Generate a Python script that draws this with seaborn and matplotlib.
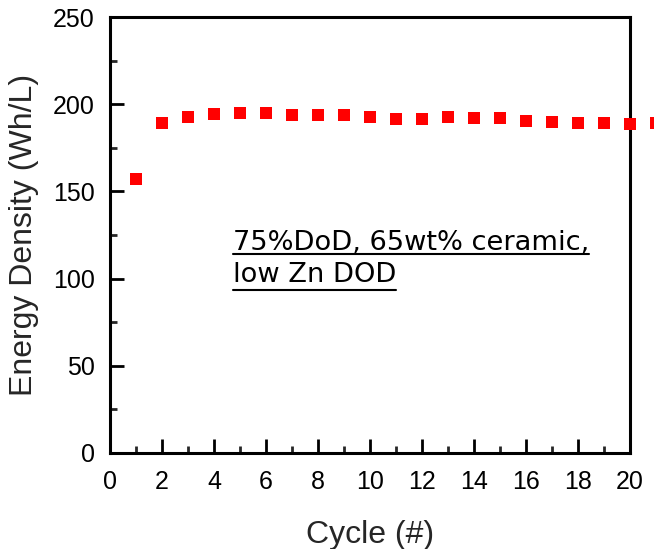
import matplotlib
matplotlib.use("Agg")
import matplotlib.pyplot as plt
import seaborn as sns
import pandas as pd
from matplotlib.lines import Line2D
from matplotlib.ticker import MultipleLocator

# Energy density per cycle
cycles = list(range(1, 22))
energy_density = [157.1, 189.3, 192.7, 194.4, 195.0, 195.0, 193.9, 193.9, 193.9, 192.7,
                  191.6, 191.6, 192.7, 192.1, 192.1, 190.4, 189.8, 189.3, 189.3, 188.7, 189.3]
x_ticks = list(range(0, 21, 2))
y_ticks = [0, 50, 100, 150, 200, 250]
note_lines = ["75%DoD, 65wt% ceramic,", "low Zn DOD"]

sns.set_style("ticks")
plt.rcParams["font.family"] = ["Liberation Sans", "DejaVu Sans"]

fig = plt.figure(figsize=(6.54, 5.49), dpi=100)
ax = fig.add_axes([0.1682, 0.1749, 0.7951, 0.7941])

df = pd.DataFrame({"Cycle": cycles, "Energy Density": energy_density})
sns.scatterplot(data=df, x="Cycle", y="Energy Density", marker="s", color="#ff0000",
                s=75, linewidth=0, clip_on=False, zorder=3, legend=False, ax=ax)

ax.set_xlim(0, 20)
ax.set_ylim(0, 250)
ax.set_xticks(x_ticks)
ax.set_yticks(y_ticks)
ax.xaxis.set_minor_locator(MultipleLocator(1))
ax.yaxis.set_minor_locator(MultipleLocator(25))

for side in ["left", "right", "top", "bottom"]:
    ax.spines[side].set_visible(True)
    ax.spines[side].set_linewidth(2.2)
    ax.spines[side].set_color("black")

ax.tick_params(axis="both", which="major", direction="in", length=10, width=2,
               top=False, right=False, labelsize=18, colors="black")
ax.tick_params(axis="both", which="minor", direction="in", length=5, width=2,
               top=False, right=False)
ax.tick_params(axis="x", which="major", pad=12)
ax.tick_params(axis="y", which="major", pad=11)

ax.set_xlabel("Cycle (#)", fontsize=23, labelpad=19)
ax.set_ylabel("Energy Density (Wh/L)", fontsize=23, labelpad=10)

# Underlined note inside the plot area
note_font = dict(family=["DejaVu Sans"], fontsize=19.6, color="black")
t1 = ax.text(0.2365, 0.4656, note_lines[0], transform=ax.transAxes, va="baseline",
             ha="left", **note_font)
t2 = ax.text(0.2365, 0.392, note_lines[1], transform=ax.transAxes, va="baseline",
             ha="left", **note_font)

fig.canvas.draw()
renderer = fig.canvas.get_renderer()
H = fig.bbox.height
for t, drop in ((t1, 4), (t2, 8)):
    bb = t.get_window_extent(renderer)
    _, base_y = ax.transAxes.transform(t.get_position())
    y = base_y - drop
    fig.add_artist(Line2D([bb.x0 / fig.bbox.width, bb.x1 / fig.bbox.width],
                          [y / H, y / H], transform=fig.transFigure,
                          color="black", linewidth=1.5))

fig.savefig("out.png", dpi=100)
